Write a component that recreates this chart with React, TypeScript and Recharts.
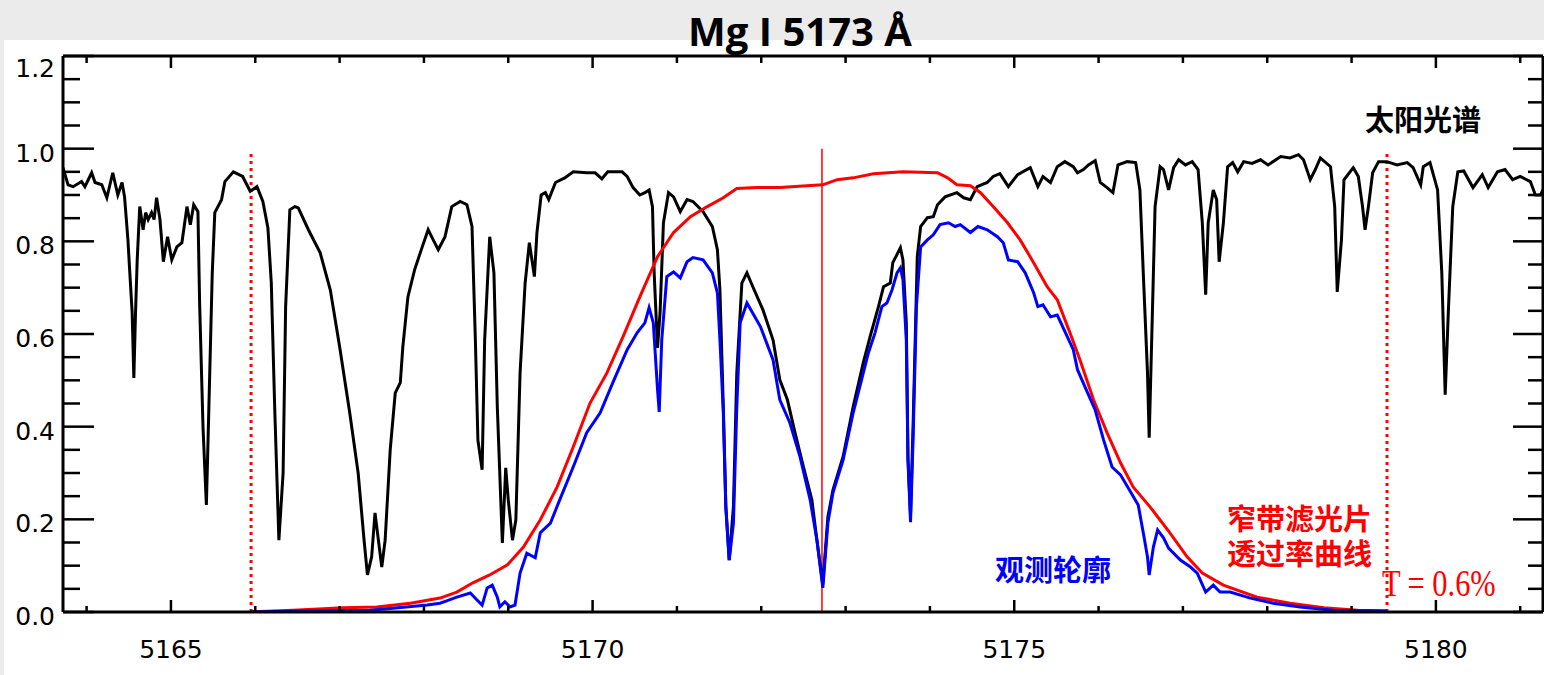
import { LineChart, Line, XAxis, YAxis, ReferenceLine } from 'recharts';

// wavelength (Å) vs normalised intensity
const solarSpectrum: [number, number][] = [
  [5163.72, 0.959], [5163.78, 0.922], [5163.84, 0.918], [5163.94, 0.929], [5163.98, 0.918], [5164.06, 0.948],
  [5164.10, 0.927], [5164.18, 0.922], [5164.24, 0.894], [5164.31, 0.948], [5164.37, 0.90], [5164.42, 0.927],
  [5164.45, 0.896], [5164.49, 0.803], [5164.51, 0.739], [5164.54, 0.646], [5164.56, 0.505], [5164.58, 0.646],
  [5164.60, 0.76], [5164.63, 0.875], [5164.67, 0.825], [5164.70, 0.862], [5164.73, 0.847], [5164.77, 0.862],
  [5164.80, 0.847], [5164.83, 0.894], [5164.87, 0.847], [5164.91, 0.756], [5164.96, 0.81], [5165.01, 0.76],
  [5165.07, 0.788], [5165.13, 0.797], [5165.19, 0.875], [5165.23, 0.836], [5165.27, 0.879], [5165.32, 0.864],
  [5165.34, 0.667], [5165.38, 0.40], [5165.42, 0.231], [5165.44, 0.371], [5165.49, 0.732], [5165.52, 0.862],
  [5165.60, 0.89], [5165.64, 0.929], [5165.74, 0.95], [5165.85, 0.94], [5165.94, 0.908], [5166.02, 0.918],
  [5166.09, 0.886], [5166.15, 0.829], [5166.19, 0.71], [5166.23, 0.443], [5166.28, 0.155], [5166.33, 0.30],
  [5166.36, 0.659], [5166.41, 0.868], [5166.47, 0.875], [5166.51, 0.872], [5166.63, 0.825], [5166.77, 0.775],
  [5166.89, 0.695], [5167.00, 0.573], [5167.12, 0.43], [5167.22, 0.30], [5167.29, 0.155], [5167.33, 0.08],
  [5167.38, 0.119], [5167.42, 0.214], [5167.46, 0.155], [5167.50, 0.097], [5167.54, 0.155], [5167.60, 0.35],
  [5167.66, 0.473], [5167.72, 0.495], [5167.75, 0.573], [5167.81, 0.68], [5167.89, 0.739], [5167.98, 0.788],
  [5168.05, 0.825], [5168.11, 0.803], [5168.17, 0.782], [5168.25, 0.81], [5168.33, 0.875], [5168.43, 0.886],
  [5168.51, 0.879], [5168.57, 0.832], [5168.61, 0.587], [5168.64, 0.371], [5168.69, 0.307], [5168.72, 0.587],
  [5168.78, 0.81], [5168.83, 0.732], [5168.87, 0.443], [5168.93, 0.149], [5168.97, 0.311], [5169.00, 0.242],
  [5169.05, 0.155], [5169.09, 0.199], [5169.14, 0.516], [5169.20, 0.71], [5169.25, 0.797], [5169.31, 0.724],
  [5169.34, 0.819], [5169.39, 0.90], [5169.44, 0.905], [5169.48, 0.89], [5169.56, 0.927], [5169.67, 0.937],
  [5169.77, 0.95], [5169.93, 0.948], [5170.03, 0.948], [5170.11, 0.935], [5170.18, 0.95], [5170.35, 0.95],
  [5170.41, 0.94], [5170.48, 0.916], [5170.56, 0.90], [5170.62, 0.905], [5170.67, 0.911], [5170.71, 0.875],
  [5170.73, 0.732], [5170.77, 0.57], [5170.80, 0.646], [5170.84, 0.84], [5170.90, 0.905], [5170.96, 0.896],
  [5171.04, 0.864], [5171.12, 0.89], [5171.19, 0.886], [5171.31, 0.864], [5171.42, 0.832], [5171.48, 0.782],
  [5171.51, 0.695], [5171.55, 0.443], [5171.58, 0.227], [5171.62, 0.112], [5171.67, 0.227], [5171.71, 0.516],
  [5171.77, 0.71], [5171.83, 0.732], [5171.90, 0.702], [5172.02, 0.652], [5172.14, 0.587], [5172.22, 0.501],
  [5172.31, 0.458], [5172.40, 0.387], [5172.50, 0.313], [5172.60, 0.242], [5172.66, 0.155], [5172.73, 0.06],
  [5172.79, 0.205], [5172.85, 0.263], [5172.97, 0.335], [5173.09, 0.443], [5173.21, 0.538], [5173.29, 0.594],
  [5173.39, 0.659], [5173.45, 0.702], [5173.53, 0.71], [5173.56, 0.754], [5173.65, 0.786], [5173.68, 0.76],
  [5173.72, 0.624], [5173.74, 0.33], [5173.77, 0.21], [5173.80, 0.40], [5173.85, 0.767], [5173.89, 0.832],
  [5173.97, 0.851], [5174.04, 0.853], [5174.09, 0.879], [5174.18, 0.896], [5174.32, 0.905], [5174.40, 0.894],
  [5174.48, 0.89], [5174.56, 0.918], [5174.68, 0.927], [5174.75, 0.94], [5174.83, 0.946], [5174.93, 0.918],
  [5175.04, 0.944], [5175.19, 0.959], [5175.28, 0.918], [5175.34, 0.94], [5175.43, 0.927], [5175.51, 0.961],
  [5175.60, 0.972], [5175.70, 0.961], [5175.75, 0.948], [5175.82, 0.955], [5175.88, 0.965], [5175.96, 0.974],
  [5176.02, 0.927], [5176.10, 0.916], [5176.17, 0.905], [5176.23, 0.965], [5176.34, 0.972], [5176.44, 0.97],
  [5176.49, 0.911], [5176.53, 0.732], [5176.58, 0.516], [5176.60, 0.376], [5176.64, 0.659], [5176.67, 0.875],
  [5176.73, 0.961], [5176.77, 0.955], [5176.83, 0.911], [5176.89, 0.959], [5176.95, 0.976], [5177.03, 0.965],
  [5177.11, 0.972], [5177.18, 0.955], [5177.23, 0.84], [5177.27, 0.685], [5177.30, 0.84], [5177.36, 0.911],
  [5177.40, 0.89], [5177.43, 0.756], [5177.48, 0.84], [5177.53, 0.961], [5177.59, 0.97], [5177.65, 0.95],
  [5177.72, 0.972], [5177.82, 0.968], [5177.92, 0.976], [5178.01, 0.965], [5178.16, 0.983], [5178.27, 0.98],
  [5178.37, 0.987], [5178.43, 0.976], [5178.51, 0.933], [5178.57, 0.955], [5178.63, 0.98], [5178.75, 0.961],
  [5178.80, 0.875], [5178.83, 0.691], [5178.88, 0.803], [5178.91, 0.933], [5179.02, 0.959], [5179.08, 0.94],
  [5179.13, 0.875], [5179.16, 0.825], [5179.20, 0.875], [5179.25, 0.948], [5179.32, 0.972], [5179.42, 0.972],
  [5179.54, 0.965], [5179.66, 0.97], [5179.73, 0.959], [5179.82, 0.922], [5179.85, 0.961], [5179.93, 0.97],
  [5180.02, 0.911], [5180.07, 0.732], [5180.11, 0.469], [5180.15, 0.659], [5180.20, 0.875], [5180.26, 0.95],
  [5180.33, 0.952], [5180.44, 0.916], [5180.55, 0.944], [5180.62, 0.916], [5180.73, 0.95], [5180.82, 0.955],
  [5180.91, 0.933], [5181.00, 0.94], [5181.12, 0.929], [5181.18, 0.90], [5181.24, 0.90], [5181.27, 0.911],
];

const observedProfile: [number, number][] = [
  [5165.94, 0], [5166.53, 0.002], [5167.36, 0.004], [5167.63, 0.008], [5168.04, 0.015], [5168.19, 0.019],
  [5168.27, 0.024], [5168.39, 0.032], [5168.55, 0.041], [5168.63, 0.026], [5168.69, 0.015], [5168.75, 0.052],
  [5168.81, 0.058], [5168.87, 0.032], [5168.90, 0.011], [5168.96, 0.022], [5169.02, 0.011], [5169.08, 0.015],
  [5169.14, 0.084], [5169.22, 0.127], [5169.32, 0.117], [5169.38, 0.171], [5169.50, 0.192], [5169.61, 0.242],
  [5169.77, 0.313], [5169.93, 0.387], [5170.09, 0.43], [5170.24, 0.495], [5170.41, 0.566], [5170.53, 0.603],
  [5170.62, 0.624], [5170.67, 0.657], [5170.72, 0.624], [5170.77, 0.48], [5170.79, 0.432], [5170.82, 0.587],
  [5170.88, 0.724], [5170.96, 0.734], [5171.04, 0.721], [5171.12, 0.756], [5171.19, 0.765], [5171.31, 0.76],
  [5171.42, 0.732], [5171.48, 0.689], [5171.51, 0.587], [5171.55, 0.43], [5171.58, 0.227], [5171.62, 0.112],
  [5171.67, 0.192], [5171.71, 0.443], [5171.75, 0.624], [5171.83, 0.667], [5171.99, 0.616], [5172.14, 0.544],
  [5172.22, 0.458], [5172.34, 0.408], [5172.46, 0.335], [5172.58, 0.242], [5172.66, 0.155], [5172.73, 0.052],
  [5172.79, 0.192], [5172.85, 0.257], [5172.97, 0.328], [5173.09, 0.43], [5173.21, 0.516], [5173.27, 0.559],
  [5173.35, 0.603], [5173.43, 0.659], [5173.49, 0.667], [5173.55, 0.695], [5173.61, 0.732], [5173.65, 0.743],
  [5173.68, 0.717], [5173.72, 0.587], [5173.74, 0.328], [5173.77, 0.194], [5173.80, 0.371], [5173.84, 0.659],
  [5173.89, 0.788], [5173.97, 0.803], [5174.04, 0.814], [5174.12, 0.836], [5174.22, 0.84], [5174.30, 0.832],
  [5174.36, 0.836], [5174.48, 0.819], [5174.57, 0.832], [5174.68, 0.825], [5174.80, 0.81], [5174.87, 0.797],
  [5174.93, 0.76], [5175.04, 0.756], [5175.13, 0.732], [5175.23, 0.689], [5175.28, 0.659], [5175.34, 0.663],
  [5175.43, 0.637], [5175.51, 0.641], [5175.63, 0.594], [5175.70, 0.566], [5175.75, 0.523], [5175.87, 0.473],
  [5175.96, 0.436], [5176.06, 0.371], [5176.16, 0.313], [5176.26, 0.296], [5176.38, 0.259], [5176.47, 0.231],
  [5176.53, 0.171], [5176.58, 0.119], [5176.60, 0.08], [5176.65, 0.14], [5176.70, 0.177], [5176.77, 0.16],
  [5176.83, 0.138], [5176.97, 0.112], [5177.09, 0.097], [5177.17, 0.084], [5177.27, 0.043], [5177.36, 0.058],
  [5177.44, 0.043], [5177.56, 0.043], [5177.80, 0.03], [5178.07, 0.019], [5178.39, 0.011], [5178.78, 0.004],
  [5179.42, 0.002],
];

const filterCurve: [number, number][] = [
  [5165.95, 0], [5166.45, 0.004], [5167.04, 0.009], [5167.44, 0.011], [5167.84, 0.019], [5168.19, 0.03],
  [5168.39, 0.043], [5168.58, 0.063], [5168.78, 0.08], [5168.99, 0.102], [5169.18, 0.14], [5169.38, 0.199],
  [5169.58, 0.27], [5169.77, 0.356], [5169.97, 0.451], [5170.17, 0.516], [5170.36, 0.594], [5170.56, 0.68],
  [5170.77, 0.767], [5170.96, 0.819], [5171.16, 0.853], [5171.36, 0.875], [5171.55, 0.894], [5171.71, 0.914],
  [5171.95, 0.916], [5172.22, 0.916], [5172.54, 0.92], [5172.73, 0.922], [5172.90, 0.933], [5173.09, 0.937],
  [5173.33, 0.946], [5173.68, 0.95], [5174.09, 0.948], [5174.21, 0.937], [5174.32, 0.922], [5174.48, 0.92],
  [5174.60, 0.905], [5174.75, 0.875], [5174.92, 0.84], [5175.07, 0.803], [5175.23, 0.754], [5175.39, 0.702],
  [5175.51, 0.674], [5175.66, 0.603], [5175.78, 0.544], [5175.94, 0.458], [5176.10, 0.387], [5176.26, 0.322],
  [5176.41, 0.27], [5176.61, 0.227], [5176.82, 0.177], [5177.05, 0.119], [5177.23, 0.084], [5177.48, 0.058],
  [5177.88, 0.032], [5178.27, 0.019], [5178.67, 0.009], [5179.07, 0.004], [5179.42, 0.002],
];

// filter edges (T = 0.6%) and line centre
const filterEdges = [5165.95, 5179.42];
const lineCentre = 5172.72;

const xTicks = [5164, 5165, 5166, 5167, 5168, 5169, 5170, 5171, 5172, 5173, 5174, 5175, 5176, 5177, 5178, 5179, 5180, 5181];
const yTicks = [0, 0.05, 0.1, 0.15, 0.2, 0.25, 0.3, 0.35, 0.4, 0.45, 0.5, 0.55, 0.6, 0.65, 0.7, 0.75, 0.8, 0.85, 0.9, 0.95, 1.0, 1.05, 1.1, 1.15, 1.2];

const toRows = (pairs: [number, number][]) => pairs.map(([wl, v]) => ({ wl, v }));

const isMajorX = (v: number) => v % 5 === 0;
const isMajorY = (v: number) => Math.abs(v * 5 - Math.round(v * 5)) < 1e-6;

const tickFont = { fontFamily: 'DejaVu Sans', fontSize: 25, fill: '#000' };

function BottomTick({ x, y, payload }: any) {
  const major = isMajorX(payload.value);
  return (
    <g>
      <line x1={x} y1={y} x2={x} y2={y - (major ? 12 : 6)} stroke="#000" strokeWidth={2.5} />
      {major && (
        <text x={x} y={y + 46} textAnchor="middle" {...tickFont}>
          {payload.value}
        </text>
      )}
    </g>
  );
}

function TopTick({ x, y, payload }: any) {
  const major = isMajorX(payload.value);
  return <line x1={x} y1={y} x2={x} y2={y + (major ? 12 : 7)} stroke="#000" strokeWidth={2.5} />;
}

function LeftTick({ x, y, payload }: any) {
  const v = payload.value;
  const major = isMajorY(v);
  return (
    <g>
      <line x1={x} y1={y} x2={x + (major ? 31 : 17)} y2={y} stroke="#000" strokeWidth={2.5} />
      {major && (
        <text x={x - 8} y={y + (v > 1.15 ? 21 : 13)} textAnchor="end" {...tickFont}>
          {v.toFixed(1)}
        </text>
      )}
    </g>
  );
}

function RightTick({ x, y, payload }: any) {
  const major = isMajorY(payload.value);
  return <line x1={x} y1={y} x2={x - (major ? 30 : 15)} y2={y} stroke="#000" strokeWidth={2.5} />;
}

const cjk = { fontFamily: '"Noto Sans CJK SC", sans-serif', fontWeight: 700, fontSize: 29, lineHeight: '30px', whiteSpace: 'nowrap' as const };

export default function App() {
  const axisLine = { stroke: '#000', strokeWidth: 3 };
  return (
    <div style={{ position: 'absolute', left: 0, top: 0, width: 1544, height: 675, background: '#ebebeb', overflow: 'hidden' }}>
      <div style={{ position: 'absolute', left: 4, top: 40, width: 1540, height: 635, background: '#fff' }} />
      <div style={{ position: 'absolute', left: 0, top: 0 }}>
        <LineChart width={1544} height={675} margin={{ top: 0, right: 0, bottom: 0, left: 0 }}>
          <XAxis xAxisId="bottom" type="number" dataKey="wl" domain={[5163.72, 5181.27]} ticks={xTicks} interval={0}
            height={63} tickSize={0} tickMargin={0} tickLine={false} axisLine={axisLine} tick={<BottomTick />} allowDataOverflow />
          <XAxis xAxisId="top" orientation="top" type="number" dataKey="wl" domain={[5163.72, 5181.27]} ticks={xTicks} interval={0}
            height={56} tickSize={0} tickMargin={0} tickLine={false} axisLine={axisLine} tick={<TopTick />} allowDataOverflow />
          <YAxis yAxisId="left" type="number" domain={[0, 1.2]} ticks={yTicks} interval={0}
            width={63} tickSize={0} tickMargin={0} tickLine={false} axisLine={axisLine} tick={<LeftTick />} allowDataOverflow />
          <YAxis yAxisId="right" orientation="right" type="number" domain={[0, 1.2]} ticks={yTicks} interval={0}
            width={1} tickSize={0} tickMargin={0} tickLine={false} axisLine={axisLine} tick={<RightTick />} allowDataOverflow />

          {filterEdges.map((wl) => (
            <ReferenceLine key={wl} xAxisId="bottom" yAxisId="left"
              segment={[{ x: wl, y: 0 }, { x: wl, y: 0.99 }]}
              stroke="#ff0000" strokeWidth={3} strokeDasharray="3 4" />
          ))}
          <ReferenceLine xAxisId="bottom" yAxisId="left"
            segment={[{ x: lineCentre, y: 0 }, { x: lineCentre, y: 1.0 }]}
            stroke="#ff0000" strokeWidth={1.5} />

          <Line xAxisId="bottom" yAxisId="left" data={toRows(solarSpectrum)} dataKey="v" type="linear"
            stroke="#000" strokeWidth={3} dot={false} isAnimationActive={false} />
          <Line xAxisId="bottom" yAxisId="left" data={toRows(filterCurve)} dataKey="v" type="linear"
            stroke="#ff0000" strokeWidth={3} dot={false} isAnimationActive={false} />
          <Line xAxisId="bottom" yAxisId="left" data={toRows(observedProfile)} dataKey="v" type="linear"
            stroke="#0000ff" strokeWidth={3} dot={false} isAnimationActive={false} />
        </LineChart>
      </div>

      <div style={{ position: 'absolute', left: 500, top: 9, width: 600, textAlign: 'center',
        fontFamily: '"Open Sans", sans-serif', fontWeight: 700, fontSize: 40, lineHeight: '44px', color: '#000' }}>
        Mg I 5173 Å
      </div>
      <div style={{ position: 'absolute', left: 1365, top: 103, color: '#000', ...cjk }}>太阳光谱</div>
      <div style={{ position: 'absolute', left: 1227, top: 502, color: '#ff0000', ...cjk }}>窄带滤光片</div>
      <div style={{ position: 'absolute', left: 1227, top: 537, color: '#ff0000', ...cjk }}>透过率曲线</div>
      <div style={{ position: 'absolute', left: 995, top: 553, color: '#0000ff', ...cjk }}>观测轮廓</div>
      <div style={{ position: 'absolute', left: 1382, top: 563, color: '#ff0000', transform: 'scaleX(0.8)', transformOrigin: 'left center',
        fontFamily: '"Liberation Serif", serif', fontSize: 38, lineHeight: '40px', whiteSpace: 'nowrap' }}>
        T = 0.6%
      </div>
    </div>
  );
}
